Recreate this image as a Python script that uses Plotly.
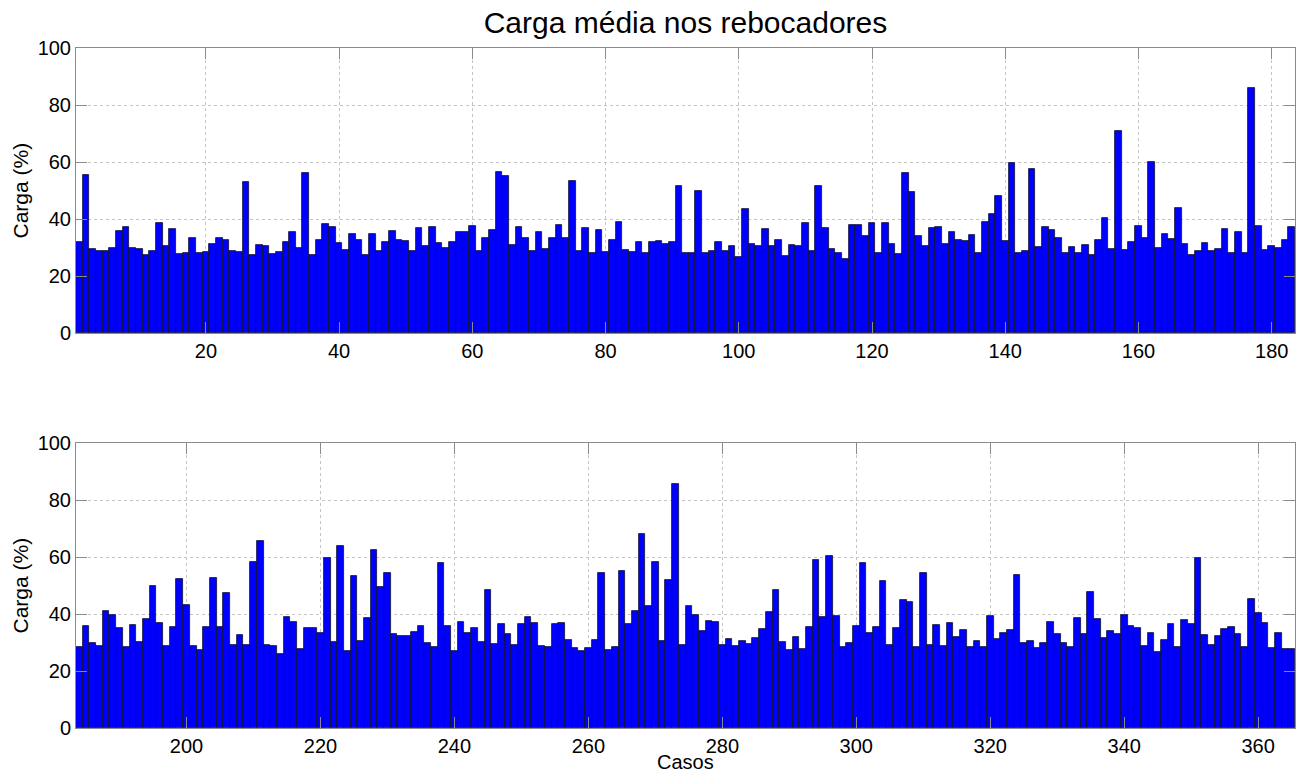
import plotly.graph_objects as go

# ---- data ----
casos_top = list(range(1, 184))
carga_top = [
    31.8, 55.6, 29.6, 28.9, 28.7, 29.8, 35.8, 37.3, 29.8, 29.4,
    27.4, 28.6, 38.5, 30.4, 36.6, 27.8, 28.0, 33.5, 27.9, 28.5,
    31.2, 33.5, 32.6, 28.9, 28.4, 52.9, 27.2, 30.9, 30.5, 27.8,
    28.4, 31.9, 35.3, 29.9, 56.1, 27.5, 32.8, 38.2, 37.3, 31.5,
    29.1, 34.9, 32.8, 27.2, 34.7, 28.6, 32.1, 35.8, 32.7, 32.2,
    28.7, 36.7, 30.6, 37.3, 31.6, 30.0, 31.8, 35.3, 35.5, 37.6,
    28.6, 33.2, 36.2, 56.6, 55.1, 30.8, 37.2, 33.4, 28.6, 35.3,
    29.6, 33.4, 37.8, 33.2, 53.2, 28.6, 36.9, 28.1, 36.1, 28.5,
    32.8, 38.8, 29.2, 28.5, 31.9, 28.2, 32.1, 32.4, 31.3, 31.8,
    51.6, 27.9, 28.2, 49.9, 27.9, 28.9, 31.8, 28.6, 30.5, 26.8,
    43.5, 31.2, 30.7, 36.6, 30.5, 32.5, 26.9, 30.9, 30.4, 38.5,
    28.6, 51.6, 36.7, 29.4, 28.2, 26.1, 37.8, 37.9, 33.9, 38.5,
    28.0, 38.5, 31.1, 27.6, 56.0, 49.3, 33.9, 30.7, 36.9, 37.3,
    31.4, 35.5, 32.6, 32.2, 34.5, 28.0, 39.1, 41.9, 47.9, 32.4,
    59.8, 28.0, 28.7, 57.5, 30.1, 37.3, 36.1, 33.3, 28.2, 30.2,
    28.0, 30.9, 27.3, 32.5, 40.5, 29.3, 70.9, 29.2, 32.1, 37.5,
    33.3, 60.0, 29.8, 34.9, 33.1, 44.0, 31.1, 27.3, 28.6, 31.5,
    28.7, 29.5, 36.4, 28.2, 35.6, 27.9, 85.8, 37.4, 29.2, 30.6,
    30.0, 32.8, 37.3,
]
casos_bot = list(range(184, 366))
carga_bot = [
    28.3, 35.9, 29.9, 28.7, 41.1, 39.7, 35.2, 28.5, 36.3, 30.3,
    38.4, 49.7, 36.9, 28.6, 35.5, 52.2, 43.1, 28.9, 27.3, 35.6,
    52.5, 35.3, 47.2, 29.0, 32.5, 29.2, 58.2, 65.7, 29.0, 28.9,
    25.8, 39.0, 37.3, 27.7, 35.2, 35.0, 33.2, 59.8, 30.3, 63.8,
    26.9, 53.2, 30.6, 38.6, 62.3, 49.5, 54.3, 33.1, 32.3, 32.4,
    33.8, 35.7, 30.0, 28.4, 57.8, 35.7, 26.9, 37.1, 33.2, 35.0,
    30.3, 48.4, 29.6, 36.6, 32.9, 29.3, 36.4, 38.8, 36.9, 28.9,
    28.3, 36.6, 36.7, 30.9, 27.9, 26.9, 27.9, 30.9, 54.4, 27.3,
    28.5, 55.2, 36.4, 41.1, 68.2, 42.8, 58.4, 30.5, 52.1, 85.5,
    29.3, 42.8, 39.7, 34.0, 37.7, 37.2, 29.1, 31.1, 28.6, 30.7,
    29.4, 31.7, 34.7, 40.6, 48.3, 30.2, 27.3, 31.9, 27.8, 35.3,
    59.1, 38.9, 60.5, 39.2, 28.4, 29.7, 35.9, 57.8, 33.2, 35.6,
    51.6, 29.0, 35.0, 45.0, 44.2, 28.4, 54.3, 29.0, 36.3, 28.6,
    36.7, 31.8, 34.3, 28.5, 30.7, 28.3, 39.2, 31.4, 33.3, 34.4,
    53.7, 29.9, 30.4, 28.0, 30.0, 37.1, 33.0, 30.0, 28.4, 38.5,
    32.9, 47.7, 38.3, 31.6, 34.2, 33.1, 39.6, 35.9, 35.0, 28.7,
    33.4, 26.6, 31.0, 36.6, 28.5, 38.0, 36.6, 59.6, 32.6, 29.2,
    32.3, 34.6, 35.3, 32.9, 28.5, 45.3, 40.3, 36.7, 28.0, 33.4,
    27.6, 27.7,
]
ticks_top = [20, 40, 60, 80, 100, 120, 140, 160, 180]
ticks_bot = [200, 220, 240, 260, 280, 300, 320, 340, 360]
ticks_y = [0, 20, 40, 60, 80, 100]

title_text = "Carga média nos rebocadores"
ylabel = "Carga (%)"
xlabel = "Casos"

FONT = "Liberation Sans, Arial, Helvetica, sans-serif"
W, H = 1305, 778
ML, MR, MT, MB = 76, 10, 48, 50
plot_h = H - MT - MB
top_dom = [(H - MB - 333) / plot_h, 1.0]
bot_dom = [0.0, (H - MB - 443) / plot_h]

fig = go.Figure()
bar_style = dict(marker=dict(color="#0000ff", line=dict(color="#101030", width=0.8)),
                 hoverinfo="x+y", showlegend=False)
fig.add_trace(go.Bar(x=casos_top, y=carga_top, xaxis="x", yaxis="y", **bar_style))
fig.add_trace(go.Bar(x=casos_bot, y=carga_bot, xaxis="x2", yaxis="y2", **bar_style))

axis_common = dict(showline=True, linecolor="#8a8a8a", linewidth=1, mirror="ticks",
                   ticks="inside", ticklen=11, tickcolor="#8a8a8a", tickwidth=1,
                   showgrid=True, gridcolor="#c4c4c4", griddash="dot", gridwidth=1,
                   zeroline=False, tickfont=dict(size=20, color="#000000", family=FONT))

fig.update_layout(
    width=W, height=H,
    margin=dict(l=ML, r=MR, t=MT, b=MB),
    paper_bgcolor="white", plot_bgcolor="white",
    bargap=0,
    font=dict(family=FONT, color="#000000"),
    title=dict(text=title_text, x=0.5, xref="paper", xanchor="center", y=1 - 22 / H,
               yanchor="middle", yref="container",
               font=dict(size=30, family=FONT, color="#000000")),
    xaxis=dict(domain=[0, 1], anchor="y", range=[0.5, 183.5], tickvals=ticks_top, **axis_common),
    yaxis=dict(domain=top_dom, anchor="x", range=[0, 100], tickvals=ticks_y, **axis_common),
    xaxis2=dict(domain=[0, 1], anchor="y2", range=[183.5, 365.5], tickvals=ticks_bot, **axis_common),
    yaxis2=dict(domain=bot_dom, anchor="x2", range=[0, 100], tickvals=ticks_y, **axis_common),
)

lab_x = (20 - ML) / (W - ML - MR)
fig.add_annotation(text=ylabel, textangle=-90, xref="paper", yref="paper",
                   x=lab_x, y=(top_dom[0] + top_dom[1]) / 2, xanchor="center", yanchor="middle",
                   showarrow=False, font=dict(size=21, family=FONT, color="#000000"))
fig.add_annotation(text=ylabel, textangle=-90, xref="paper", yref="paper",
                   x=lab_x, y=(bot_dom[0] + bot_dom[1]) / 2, xanchor="center", yanchor="middle",
                   showarrow=False, font=dict(size=21, family=FONT, color="#000000"))
fig.add_annotation(text=xlabel, xref="paper", yref="paper",
                   x=0.5, y=-34 / plot_h, xanchor="center", yanchor="middle",
                   showarrow=False, font=dict(size=20, family=FONT, color="#000000"))

fig.write_html("out.html")
